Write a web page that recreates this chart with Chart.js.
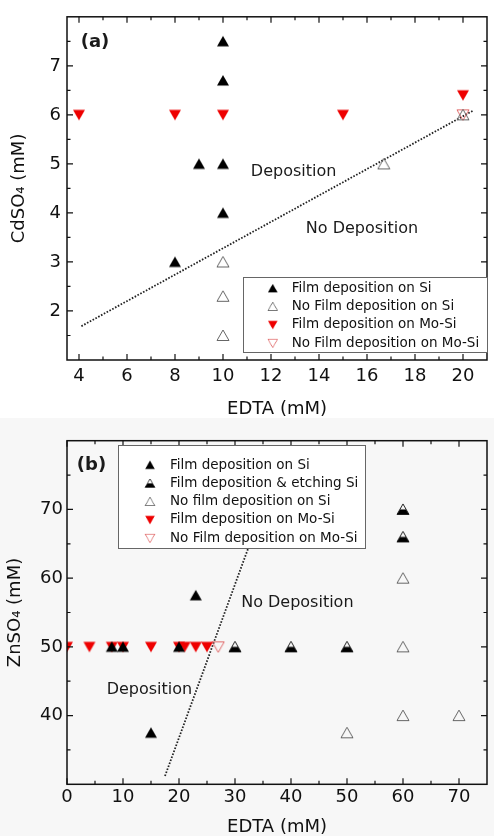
<!DOCTYPE html>
<html>
<head>
<meta charset="utf-8">
<script src="https://cdn.jsdelivr.net/npm/chart.js@4.4.0/dist/chart.umd.min.js"></script>
<style>
  body { margin: 0; background: #fff; }
  .panel { position: relative; width: 494px; height: 418px; }
  #wrapB { background: #f7f7f7; }
</style>
</head>
<body>
<div class="panel"><canvas id="chartA" width="494" height="418"></canvas></div>
<div class="panel" id="wrapB"><canvas id="chartB" width="494" height="418"></canvas></div>

<script>
// panel (a): CdSO4 vs EDTA
var aFilmSi   = [[10, 7.5], [10, 6.7], [9, 5], [10, 5], [10, 4], [8, 3]];
var aNoFilmSi = [[16.7, 5], [10, 3], [10, 2.3], [10, 1.5], [20, 6]];
var aFilmMo   = [[4, 6], [8, 6], [10, 6], [15, 6], [20, 6.4]];
var aNoFilmMo = [[20, 6]];
var aBoundary = [[4.1, 1.69], [20.4, 6.08]];
var aXTicks = [4, 6, 8, 10, 12, 14, 16, 18, 20];
var aYTicks = [2, 3, 4, 5, 6, 7];

// panel (b): ZnSO4 vs EDTA
var bFilmSi   = [[8, 50], [10, 50], [20, 50], [15, 37.5], [23, 57.5]];
var bEtchSi   = [[30, 50], [40, 50], [50, 50], [60, 66], [60, 70]];
var bNoFilmSi = [[60, 60], [60, 50], [50, 37.5], [60, 40], [70, 40]];
var bFilmMo   = [[0, 50], [4, 50], [8, 50], [10, 50], [15, 50], [20, 50], [21, 50], [23, 50], [25, 50]];
var bNoFilmMo = [[27, 50]];
var bBoundary = [[17.5, 31.2], [33.5, 66.9]];
var bXTicks = [0, 10, 20, 30, 40, 50, 60, 70];
var bYTicks = [40, 50, 60, 70];

var FONT = 'DejaVu Sans';

function pts(arr) {
    return arr.map(function (p) { return {x: p[0], y: p[1]}; });
}

// little marker images used as pointStyle
function marker(kind) {
    var c = document.createElement('canvas');
    c.width = 14; c.height = 13;
    var g = c.getContext('2d');
    g.lineWidth = 1;
    g.beginPath();
    if (kind == 'redDown' || kind == 'openDown') {
        g.moveTo(1, 1.5); g.lineTo(13, 1.5); g.lineTo(7, 12);
    } else {
        g.moveTo(7, 1); g.lineTo(13, 11.5); g.lineTo(1, 11.5);
    }
    g.closePath();
    if (kind == 'up') { g.fillStyle = '#000'; g.fill(); }
    if (kind == 'redDown') { g.fillStyle = '#ee0000'; g.fill(); }
    if (kind == 'open') { g.strokeStyle = '#666'; g.stroke(); }
    if (kind == 'openDown') { g.strokeStyle = '#e06a6a'; g.stroke(); }
    if (kind == 'half') {
        g.strokeStyle = '#222'; g.stroke();
        g.beginPath();
        g.moveTo(4.2, 6.5); g.lineTo(9.8, 6.5); g.lineTo(13, 11.5); g.lineTo(1, 11.5);
        g.closePath(); g.fillStyle = '#000'; g.fill();
    }
    return c;
}

var mUp = marker('up'), mOpen = marker('open'), mHalf = marker('half');
var mRed = marker('redDown'), mOpenRed = marker('openDown');

function series(label, arr, img) {
    return {label: label, data: pts(arr), pointStyle: img, pointRadius: 6, showLine: false};
}
function boundary(arr) {
    return {label: '', data: pts(arr), showLine: true, pointRadius: 0, borderColor: '#222',
            borderWidth: 1.8, borderDash: [1.6, 1.6], fill: false};
}

// box frame with inward major/minor ticks on all four sides
var frame = {
    id: 'frame',
    afterDatasetsDraw: function (chart) {
        var a = chart.chartArea, ctx = chart.ctx;
        ctx.save();
        ctx.strokeStyle = '#111';
        ctx.lineWidth = 1.5;
        ctx.strokeRect(a.left, a.top, a.right - a.left, a.bottom - a.top);
        ctx.lineWidth = 1.2;
        function marks(scale, horiz) {
            var vals = scale.ticks.map(function (t) { return t.value; });
            var step = vals[1] - vals[0];
            var list = vals.map(function (v) { return [v, 6]; });
            for (var v = vals[0] - step / 2; v < scale.max; v += step) {
                if (v > scale.min && v < scale.max) list.push([v, 3.5]);
            }
            list.forEach(function (m) {
                var p = scale.getPixelForValue(m[0]);
                ctx.beginPath();
                if (horiz) {
                    ctx.moveTo(p, a.bottom); ctx.lineTo(p, a.bottom - m[1]);
                    ctx.moveTo(p, a.top); ctx.lineTo(p, a.top + m[1]);
                } else {
                    ctx.moveTo(a.left, p); ctx.lineTo(a.left + m[1], p);
                    ctx.moveTo(a.right, p); ctx.lineTo(a.right - m[1], p);
                }
                ctx.stroke();
            });
        }
        marks(chart.scales.x, true);
        marks(chart.scales.y, false);
        ctx.restore();
    }
};

// text notes placed in data coordinates
var notes = {
    id: 'notes',
    afterDraw: function (chart, args, o) {
        var ctx = chart.ctx, xs = chart.scales.x, ys = chart.scales.y;
        ctx.save();
        ctx.textAlign = 'left';
        ctx.textBaseline = 'middle';
        ctx.fillStyle = '#1a1a1a';
        o.items.forEach(function (n) {
            ctx.font = (n.bold ? 'bold ' : '') + n.size + 'px "' + FONT + '"';
            ctx.fillText(n.text, xs.getPixelForValue(n.x), ys.getPixelForValue(n.y));
        });
        ctx.restore();
    }
};

// boxed legend drawn from the datasets' labels and marker images
var boxLegend = {
    id: 'boxLegend',
    afterDraw: function (chart, args, o) {
        var ctx = chart.ctx;
        ctx.save();
        ctx.fillStyle = '#fff';
        ctx.fillRect(o.x, o.y, o.w, o.h);
        ctx.strokeStyle = '#666';
        ctx.lineWidth = 1;
        ctx.strokeRect(o.x + 0.5, o.y + 0.5, o.w, o.h);
        ctx.font = '13.5px "' + FONT + '"';
        ctx.textBaseline = 'middle';
        ctx.textAlign = 'left';
        ctx.fillStyle = '#111';
        var row = 0;
        chart.data.datasets.forEach(function (ds) {
            if (!ds.label) return;
            var y = o.y0 + row * o.step;
            var img = ds.pointStyle, w = img.width * 0.8, h = img.height * 0.8;
            ctx.drawImage(img, o.mx - w / 2, y - h / 2, w, h);
            ctx.fillText(ds.label, o.tx, y);
            row++;
        });
        ctx.restore();
    }
};

function axes(xmin, xmax, xt, ymin, ymax, yt, xTitle, yTitle, xPad, xH, yPad, yTitlePad) {
    var tickFont = {family: FONT, size: 18};
    return {
        x: {
            type: 'linear', min: xmin, max: xmax,
            afterBuildTicks: function (s) { s.ticks = xt.map(function (v) { return {value: v}; }); },
            afterFit: function (s) { s.height = xH; },
            grid: {display: false, drawTicks: false, tickLength: 0}, border: {display: false},
            ticks: {font: tickFont, color: '#111', padding: xPad, maxRotation: 0},
            title: {display: true, text: xTitle, color: '#111', padding: 0,
                    font: {family: FONT, size: 18, lineHeight: 1}}
        },
        y: {
            type: 'linear', min: ymin, max: ymax,
            afterBuildTicks: function (s) { s.ticks = yt.map(function (v) { return {value: v}; }); },
            afterFit: function (s) { s.width = 67; },
            grid: {display: false, drawTicks: false, tickLength: 0}, border: {display: false},
            ticks: {font: tickFont, color: '#111', padding: yPad},
            title: {display: true, text: yTitle, color: '#111', padding: {top: yTitlePad, bottom: 0},
                    font: {family: FONT, size: 18, lineHeight: 1}}
        }
    };
}

new Chart(document.getElementById('chartA'), {
    type: 'scatter',
    data: {
        datasets: [
            series('Film deposition on Si', aFilmSi, mUp),
            series('No Film deposition on Si', aNoFilmSi, mOpen),
            series('Film deposition on Mo-Si', aFilmMo, mRed),
            series('No Film deposition on Mo-Si', aNoFilmMo, mOpenRed),
            boundary(aBoundary)
        ]
    },
    options: {
        responsive: false,
        animation: false,
        layout: {padding: {top: 15, right: 1, left: 0, bottom: 0}},
        scales: axes(3.5, 21, aXTicks, 1, 8, aYTicks, 'EDTA (mM)', 'CdSO\u2084 (mM)', 6, 58, 6, 10),
        plugins: {
            legend: {display: false},
            tooltip: {enabled: false},
            notes: {items: [
                {text: '(a)', x: 4.07, y: 7.47, size: 18, bold: true},
                {text: 'Deposition', x: 11.16, y: 4.83, size: 16},
                {text: 'No Deposition', x: 13.45, y: 3.67, size: 16}
            ]},
            boxLegend: {x: 243, y: 277, w: 244, h: 75, mx: 272.7, tx: 291.7, y0: 288.3, step: 18.3}
        }
    },
    plugins: [frame, notes, boxLegend]
});

new Chart(document.getElementById('chartB'), {
    type: 'scatter',
    data: {
        datasets: [
            series('Film deposition on Si', bFilmSi, mUp),
            series('Film deposition & etching Si', bEtchSi, mHalf),
            series('No film deposition on Si', bNoFilmSi, mOpen),
            series('Film deposition on Mo-Si', bFilmMo, mRed),
            series('No Film deposition on Mo-Si', bNoFilmMo, mOpenRed),
            boundary(bBoundary)
        ]
    },
    options: {
        responsive: false,
        animation: false,
        layout: {padding: {top: 22.7, right: 1, left: 0, bottom: 0}},
        scales: axes(0, 75, bXTicks, 30, 80, bYTicks, 'EDTA (mM)', 'ZnSO\u2084 (mM)', 2, 51.7, 4, 6),
        plugins: {
            legend: {display: false},
            tooltip: {enabled: false},
            notes: {items: [
                {text: '(b)', x: 1.76, y: 76.4, size: 18, bold: true},
                {text: 'No Deposition', x: 31.1, y: 56.45, size: 16},
                {text: 'Deposition', x: 7.08, y: 43.74, size: 16}
            ]},
            boxLegend: {x: 118, y: 27, w: 247, h: 103, mx: 150, tx: 170, y0: 47, step: 18.3}
        }
    },
    plugins: [frame, notes, boxLegend]
});
</script>
</body>
</html>
